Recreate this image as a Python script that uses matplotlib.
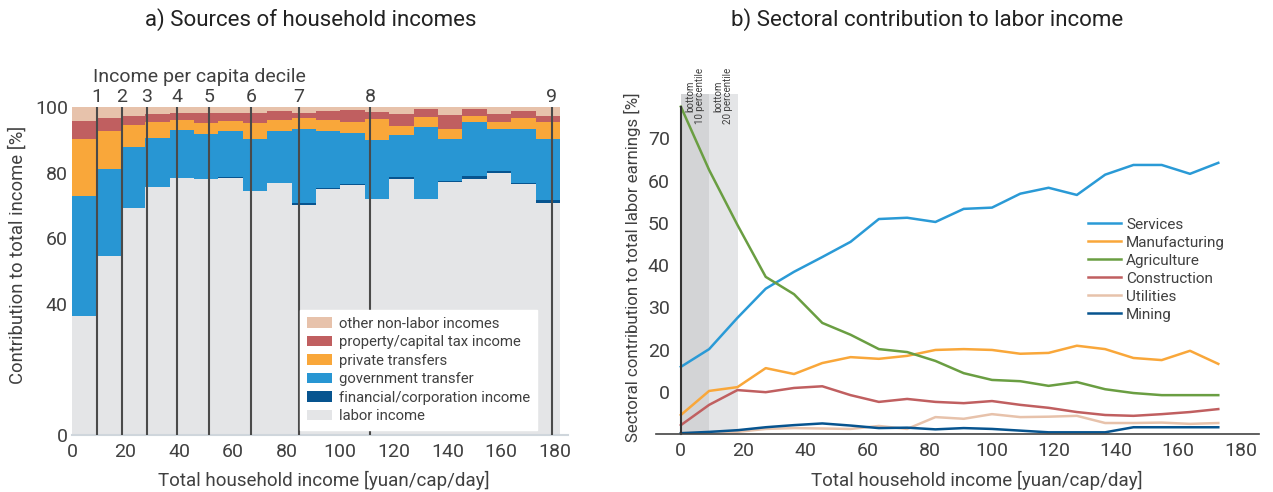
import matplotlib
matplotlib.use('Agg')
import matplotlib.pyplot as plt
import numpy as np

plt.rcParams['font.family'] = ['Roboto', 'DejaVu Sans']
TXT = '#404040'

# ---------------- Panel a: sources of household income ----------------
bar_left = [0, 9.1, 18.2, 27.3, 36.4, 45.5, 54.6, 63.7, 72.8, 81.9,
            91.0, 100.1, 109.2, 118.3, 127.4, 136.5, 145.6, 154.7, 163.8, 172.9]
bar_width = 9.1
labor = [36.3, 54.6, 69.1, 75.6, 78.4, 78.0, 78.4, 74.3, 76.9, 70.1,
         75.0, 76.1, 72.1, 78.2, 72.0, 77.1, 78.2, 79.9, 76.5, 70.8]
financial = [0, 0, 0, 0, 0, 0, 0.4, 0, 0, 0.5,
             0.3, 0.3, 0, 0.6, 0, 0.4, 0.8, 0.6, 0.4, 0.8]
government = [36.6, 26.5, 18.6, 14.9, 14.6, 13.9, 13.9, 15.9, 15.8, 22.6,
              17.5, 15.8, 17.8, 12.7, 22.0, 12.6, 16.3, 12.7, 16.3, 18.6]
private = [17.3, 11.6, 6.9, 4.9, 3.0, 3.1, 3.0, 5.0, 3.3, 3.3,
           3.2, 3.2, 6.3, 2.8, 3.0, 3.3, 2.0, 2.1, 3.3, 5.3]
prop_income = [5.6, 3.8, 2.7, 2.5, 2.3, 3.3, 2.6, 3.1, 2.8, 1.8,
               2.8, 3.6, 2.4, 3.7, 2.4, 4.2, 2.0, 2.7, 2.4, 1.8]
other_nonlabor = [4.2, 3.5, 2.7, 2.1, 1.7, 1.7, 1.7, 1.7, 1.2, 1.7,
                  1.2, 1.0, 1.4, 2.0, 0.6, 2.4, 0.7, 2.0, 1.1, 2.7]
decile_labels = ['1', '2', '3', '4', '5', '6', '7', '8', '9']
decile_income = [9.2, 18.6, 27.8, 39.0, 51.1, 66.7, 84.5, 111.2, 178.9]

source_names = ['labor income', 'financial/corporation income', 'government transfer',
                'private transfers', 'property/capital tax income', 'other non-labor incomes']
source_colors = ['#e4e5e7', '#07548f', '#2896d3', '#f9a73a', '#c05f60', '#e7c2ab']

# ---------------- Panel b: sectoral contribution ----------------
income = [0, 9.1, 18.2, 27.3, 36.4, 45.5, 54.6, 63.7, 72.8, 81.9,
          91.0, 100.1, 109.2, 118.3, 127.4, 136.5, 145.6, 154.7, 163.8, 172.9]
services = [15.9, 20.1, 27.5, 34.4, 38.4, 41.9, 45.5, 50.9, 51.2, 50.2,
            53.3, 53.6, 56.9, 58.3, 56.6, 61.4, 63.7, 63.7, 61.6, 64.2]
manufacturing = [4.5, 10.2, 11.1, 15.6, 14.2, 16.8, 18.2, 17.8, 18.5, 19.9,
                 20.1, 19.9, 19.0, 19.2, 20.9, 20.1, 18.0, 17.5, 19.7, 16.6]
agriculture = [77.5, 62.5, 49.5, 37.2, 33.1, 26.3, 23.5, 20.1, 19.4, 17.3,
               14.4, 12.8, 12.5, 11.4, 12.3, 10.6, 9.7, 9.2, 9.2, 9.2]
construction = [2.1, 6.9, 10.4, 9.9, 10.9, 11.3, 9.2, 7.6, 8.3, 7.6,
                7.3, 7.8, 6.9, 6.2, 5.2, 4.5, 4.3, 4.7, 5.2, 5.9]
utilities = [0.2, 0.4, 0.5, 1.2, 1.4, 1.3, 1.2, 1.9, 1.2, 4.0,
             3.6, 4.7, 4.0, 4.1, 4.3, 2.6, 2.6, 2.7, 2.4, 2.6]
mining = [0.2, 0.5, 0.9, 1.6, 2.1, 2.5, 2.0, 1.4, 1.5, 1.1,
          1.4, 1.2, 0.8, 0.4, 0.4, 0.4, 1.6, 1.6, 1.6, 1.6]
sector_names = ['Services', 'Manufacturing', 'Agriculture', 'Construction', 'Utilities', 'Mining']
sector_colors = ['#2a9ad6', '#f9a73a', '#6a9e42', '#c05f60', '#e7c2ab', '#07548f']
bottom_pct = [9.1, 18.4]
yticks_b = [10, 20, 30, 40, 50, 60, 70]
yticklabels_b = ['0', '20', '30', '40', '50', '60', '70']

W, H = 1273, 492
fig = plt.figure(figsize=(W / 100, H / 100), dpi=100)

# ---------- left panel ----------
axL = fig.add_axes([72 / W, 57 / H, 496 / W, 328 / H])
series = [labor, financial, government, private, prop_income, other_nonlabor]
bottom = np.zeros(len(bar_left))
for vals, name, col in zip(series, source_names, source_colors):
    axL.bar(bar_left, vals, width=bar_width, bottom=bottom, align='edge',
            color=col, label=name, linewidth=0)
    bottom = bottom + np.array(vals)
axL.vlines(decile_income, 0, 100, color='#4a4a4a', lw=1.5, zorder=3)
for xd, lab in zip(decile_income, decile_labels):
    axL.text(xd, 103, lab, ha='center', va='center', fontsize=14, color=TXT, clip_on=False)
axL.text(7.8, 109, 'Income per capita decile', ha='left', va='center', fontsize=14,
         color=TXT, clip_on=False)
axL.set_xlim(0, 185)
axL.set_ylim(0, 100)
axL.set_xticks(range(0, 181, 20))
axL.set_yticks([0, 40, 60, 80, 100])
axL.tick_params(axis='both', length=0, labelsize=14, colors=TXT)
axL.tick_params(axis='x', pad=6)
axL.tick_params(axis='y', pad=3)
for s in ['top', 'right', 'left']:
    axL.spines[s].set_visible(False)
axL.spines['bottom'].set_color('#cfd6dc')
axL.spines['bottom'].set_linewidth(1.5)
handles, labels = axL.get_legend_handles_labels()
leg = axL.legend(handles[::-1], labels[::-1], loc='upper left', bbox_to_anchor=(0.46, 0.381),
                 frameon=True, fancybox=False, framealpha=1, edgecolor='white',
                 fontsize=10.7, handlelength=1.7, handleheight=0.7, handletextpad=0.45,
                 labelspacing=0.3, borderpad=0.45, borderaxespad=0)
for t in leg.get_texts():
    t.set_color(TXT)

# ---------- right panel ----------
axR = fig.add_axes([656 / W, 58 / H, 603 / W, 340 / H])
axR.axvspan(0, bottom_pct[0], color='#d3d4d6', lw=0, zorder=0)
axR.axvspan(bottom_pct[0], bottom_pct[1], color='#e4e5e7', lw=0, zorder=0)
for vals, name, col in zip([services, manufacturing, agriculture, construction, utilities, mining],
                           sector_names, sector_colors):
    axR.plot(income, vals, color=col, lw=1.8, label=name)
axR.text(4.6, 80, 'bottom\n10 percentile', rotation=90, ha='center', va='center',
         fontsize=7, color=TXT, multialignment='center', linespacing=0.95, clip_on=False)
axR.text(13.6, 80, 'bottom\n20 percentile', rotation=90, ha='center', va='center',
         fontsize=7, color=TXT, multialignment='center', linespacing=0.95, clip_on=False)
axR.set_xlim(-8, 186)
axR.set_ylim(0, 80.5)
axR.set_xticks(range(0, 181, 20))
axR.set_yticks(yticks_b)
axR.set_yticklabels(yticklabels_b)
axR.tick_params(axis='both', length=0, labelsize=14, colors=TXT)
axR.tick_params(axis='x', pad=6)
axR.tick_params(axis='y', pad=8)
for s in ['top', 'right']:
    axR.spines[s].set_visible(False)
axR.spines['left'].set_position(('data', 0))
axR.spines['left'].set_bounds(0, agriculture[0])
axR.spines['left'].set_color('#333333')
axR.spines['left'].set_linewidth(1.5)
axR.spines['bottom'].set_color('#444444')
axR.spines['bottom'].set_linewidth(1.2)
legR = axR.legend(loc='upper left', bbox_to_anchor=(0.716, 0.636), frameon=False,
                  fontsize=11, handlelength=2.2, handletextpad=0.3, labelspacing=0.26,
                  borderpad=0, borderaxespad=0)
for t in legR.get_texts():
    t.set_color(TXT)

# ---------- titles and axis labels ----------
fig.text(311 / W, 1 - 20 / H, 'a) Sources of household incomes', ha='center', va='center',
         fontsize=16, color='#222222')
fig.text(927 / W, 1 - 20 / H, 'b) Sectoral contribution to labor income', ha='center', va='center',
         fontsize=16, color='#222222')
fig.text(324 / W, 1 - 480 / H, 'Total household income [yuan/cap/day]', ha='center', va='center',
         fontsize=13.5, color=TXT)
fig.text(977 / W, 1 - 480 / H, 'Total household income [yuan/cap/day]', ha='center', va='center',
         fontsize=13.5, color=TXT)
fig.text(18 / W, 1 - 255 / H, 'Contribution to total income [%]', ha='center', va='center',
         rotation=90, fontsize=13.3, color=TXT)
fig.text(632 / W, 1 - 267 / H, 'Sectoral contribution to total labor earnings [%]', ha='center',
         va='center', rotation=90, fontsize=12.2, color=TXT)

fig.savefig('out.png', dpi=100)
